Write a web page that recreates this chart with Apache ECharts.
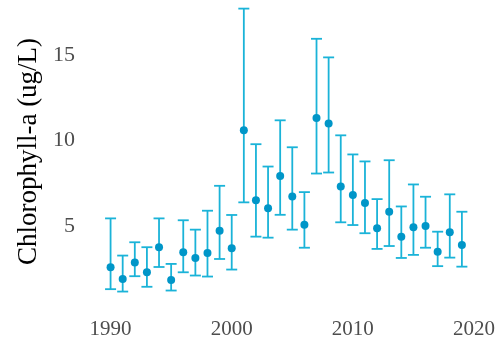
<!DOCTYPE html>
<html>
<head>
<meta charset="utf-8">
<script src="https://cdn.jsdelivr.net/npm/echarts@6/dist/echarts.min.js"></script>
<style>html,body{margin:0;padding:0;background:#fff;}#c{width:498px;height:340px;}</style>
</head>
<body>
<div id="c"></div>
<script>
var years = [1990,1991,1992,1993,1994,1995,1996,1997,1998,1999,2000,2001,2002,2003,2004,2005,2006,2007,2008,2009,2010,2011,2012,2013,2014,2015,2016,2017,2018,2019];
var means = [2.57,1.88,2.84,2.27,3.74,1.82,3.44,3.11,3.40,4.71,3.68,10.60,6.49,6.02,7.92,6.72,5.06,11.32,10.99,7.30,6.80,6.33,4.85,5.82,4.36,4.91,4.98,3.48,4.61,3.87];
var lower = [1.28,1.14,2.04,1.42,2.58,1.20,2.27,2.08,2.02,3.05,2.43,6.37,4.36,4.30,5.64,4.77,3.71,8.06,8.12,5.20,5.04,4.56,3.64,3.81,3.11,3.29,3.71,2.63,3.13,2.60];
var upper = [5.43,3.25,4.03,3.74,5.43,2.76,5.32,4.77,5.88,7.34,5.63,17.73,9.78,8.47,11.18,9.60,6.97,15.96,14.87,10.30,9.18,8.77,6.56,8.84,6.13,7.42,6.70,4.65,6.84,5.82];
var xTickLabels = [1990,2000,2010,2020];
var yTickLabels = [5,10,15];

var pts = years.map(function(y,i){return [y, means[i]];});
var bars = years.map(function(y,i){return [y, lower[i], upper[i]];});

var chart = echarts.init(document.getElementById('c'), null, {renderer:'canvas'});
chart.setOption({
  animation:false,
  backgroundColor:'#ffffff',
  grid:{left:50,right:22,top:4,bottom:28,containLabel:false},
  xAxis:{type:'value',min:1985,max:2020,interval:5,
    axisLine:{show:false},axisTick:{show:false},splitLine:{show:false},
    axisLabel:{margin:8,color:'#4d4d4d',fontFamily:'Liberation Serif',fontSize:21,
      formatter:function(v){return xTickLabels.indexOf(v)>=0?String(v):'';}}},
  yAxis:{type:'value',min:0,max:18,interval:5,
    name:'Chlorophyll-a (ug/L)',nameLocation:'middle',nameGap:-2,
    nameTextStyle:{fontFamily:'Liberation Serif',fontSize:27,color:'#000',padding:[0,0,0,12]},
    axisLine:{show:false},axisTick:{show:false},splitLine:{show:false},
    axisLabel:{margin:-25,color:'#4d4d4d',fontFamily:'Liberation Serif',fontSize:22,
      formatter:function(v){return yTickLabels.indexOf(v)>=0?String(v):'';}}},
  series:[
    {type:'custom',data:bars,z:1,
      renderItem:function(params,api){
        var x=api.value(0);
        var lo=api.coord([x,api.value(1)]);
        var hi=api.coord([x,api.value(2)]);
        var hw=5.5;
        var st={stroke:'#1ab3d8',lineWidth:1.8,fill:null};
        return {type:'group',children:[
          {type:'line',shape:{x1:lo[0],y1:lo[1],x2:hi[0],y2:hi[1]},style:st},
          {type:'line',shape:{x1:lo[0]-hw,y1:lo[1],x2:lo[0]+hw,y2:lo[1]},style:st},
          {type:'line',shape:{x1:hi[0]-hw,y1:hi[1],x2:hi[0]+hw,y2:hi[1]},style:st}
        ]};
      }},
    {type:'scatter',data:pts,z:2,symbol:'circle',symbolSize:8,
      itemStyle:{color:'#0096c8',opacity:1}}
  ]
});
</script>
</body>
</html>
